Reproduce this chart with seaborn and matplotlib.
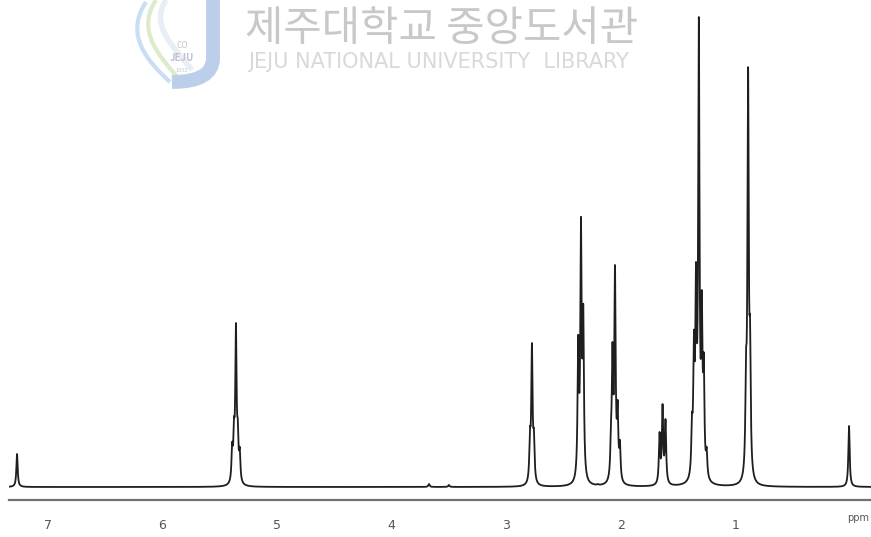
import numpy as np
import pandas as pd
import seaborn as sns
import matplotlib.pyplot as plt
from matplotlib.path import Path
from matplotlib.patches import PathPatch

# 피크 목록 (ppm, 기준선 위 높이)
peak_ppm = [7.27,
            5.392, 5.376, 5.359, 5.343, 5.326,
            2.792, 2.775, 2.758,
            2.371, 2.347, 2.327, 2.310,
            2.085, 2.072, 2.050, 2.027, 2.007,
            1.661, 1.635, 1.609,
            1.378, 1.361, 1.343, 1.318, 1.292, 1.275, 1.250,
            0.906, 0.888, 0.871,
            0.007,
            3.674, 3.500, 2.200]
peak_height = [33,
               45, 70, 164, 68, 40,
               60, 144, 58,
               152, 270, 182, 25,
               65, 145, 222, 87, 47,
               55, 83, 68,
               74, 157, 225, 470, 197, 134, 40,
               137, 420, 169,
               61,
               3, 2, 3]

tick_values = [7, 6, 5, 4, 3, 2, 1]
tick_labels = ['7', '6', '5', '4', '3', '2', '1']

# 로렌츠 선형으로 스펙트럼 구성
gamma = 0.0068
centers = np.array(peak_ppm)
K = 1.0 / (1.0 + ((centers[:, None] - centers[None, :]) / gamma) ** 2)
amps = np.clip(np.linalg.solve(K, np.array(peak_height, dtype=float)), 0, None)

grid = np.linspace(7.34, -0.185, 30000)
intensity = (amps[None, :] / (1.0 + ((grid[:, None] - centers[None, :]) / gamma) ** 2)).sum(axis=1)
df = pd.DataFrame({'ppm': grid, 'intensity': intensity})

sns.set_theme(style='white')
plt.rcParams['font.family'] = ['Noto Sans CJK KR', 'DejaVu Sans']

fig = plt.figure(figsize=(8.71, 5.37), dpi=100)

# 워터마크
wm = fig.add_axes([0, 0, 1, 1], zorder=0)
wm.set_xlim(0, 871)
wm.set_ylim(537, 0)
wm.axis('off')
wm.text(442, 29, '제주대학교 중앙도서관', fontsize=30, color='#c8c8c8',
        ha='center', va='center', family=['Noto Sans CJK KR'])
wm.text(439, 62, 'JEJU NATIONAL UNIVERSITY  LIBRARY', fontsize=15, color='#d9d9d9',
        ha='center', va='center', family=['DejaVu Sans'])

C4 = [Path.MOVETO, Path.CURVE4, Path.CURVE4, Path.CURVE4]
wm.add_patch(PathPatch(Path([(166, 0), (150, 25), (172, 45), (192, 70)], C4),
                       fill=False, lw=4, color='#e8eef6'))
wm.add_patch(PathPatch(Path([(156, 0), (136, 30), (158, 55), (180, 80)], C4),
                       fill=False, lw=3, color='#dcebcc'))
wm.add_patch(PathPatch(Path([(146, 2), (124, 35), (148, 62), (170, 82)], C4),
                       fill=False, lw=3, color='#c9def2'))
wm.add_patch(PathPatch(Path([(213, 0), (213, 58), (213, 82), (172, 82)],
                            [Path.MOVETO, Path.LINETO, Path.CURVE3, Path.CURVE3]),
                       fill=False, lw=10, color='#bccfea', capstyle='butt'))
wm.text(182, 45, 'CO', fontsize=6, color='#c2c6d0', ha='center', va='center')
wm.text(182, 58, 'JEJU', fontsize=7, color='#bcc1ce', ha='center', va='center', fontweight='bold')
wm.text(182, 70, '1952', fontsize=4, color='#c2c6d0', ha='center', va='center')

# 스펙트럼
ax = fig.add_axes([9 / 871, 37 / 537, 862 / 871, 500 / 537], zorder=1)
ax.patch.set_alpha(0)
sns.lineplot(data=df, x='ppm', y='intensity', ax=ax, color='#1e1e1e', lw=1.3,
             estimator=None, sort=False)

ax.set_xlim(7.34, -0.185)
ax.set_ylim(-13, 487)
for side in ['left', 'top', 'right']:
    ax.spines[side].set_visible(False)
ax.spines['bottom'].set_color('#707070')
ax.spines['bottom'].set_linewidth(1.6)
ax.set_yticks([])
ax.set_xticks(tick_values)
ax.set_xticklabels(tick_labels, family=['Liberation Sans Narrow', 'DejaVu Sans'])
ax.tick_params(axis='x', direction='out', length=9.5, width=1.1, color='#707070',
               pad=4, labelsize=9, labelcolor='#555555')
ax.set_xlabel('')
ax.set_ylabel('')
ax.text(0.985, -0.036, 'ppm', transform=ax.transAxes, fontsize=7, color='#555555',
        ha='center', va='center', family=['Liberation Sans Narrow', 'DejaVu Sans'])

plt.savefig('out.png', dpi=100)
